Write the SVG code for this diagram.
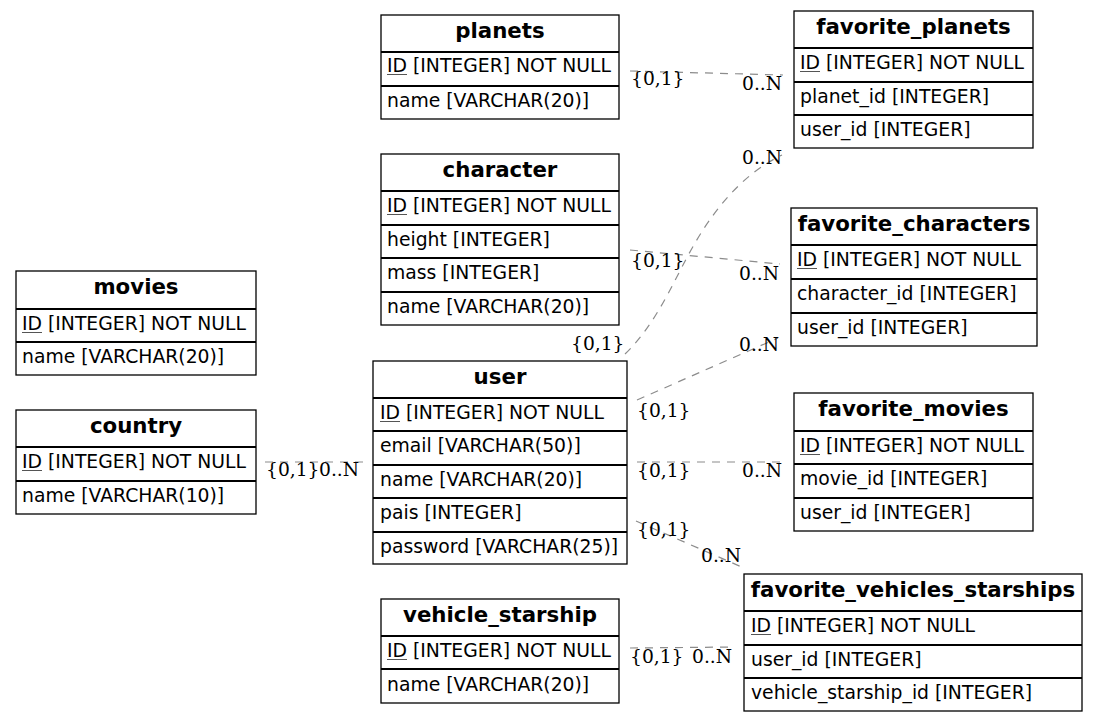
<svg xmlns="http://www.w3.org/2000/svg" width="1099" height="721" viewBox="0 0 1099 721">
  <style>
    .box { fill: #ffffff; stroke: #000000; stroke-width: 1.3; }
    .sep { stroke: #000000; stroke-width: 1.8; }
    .hdr { font-family: "DejaVu Sans", sans-serif; font-weight: bold; font-size: 21.3px; fill: #000; text-anchor: middle; }
    .col { font-family: "DejaVu Sans", sans-serif; font-size: 18.8px; fill: #000; }
    .ul { stroke: #555; stroke-width: 1; }
    .edge { fill: none; stroke: #8c8c8c; stroke-width: 1.2; stroke-dasharray: 8 7; }
    .lbl { font-family: "DejaVu Serif", serif; font-size: 18.7px; fill: #000; }
  </style>

  <!-- relationship lines and cardinality labels -->
  <g id="connectors">
    <path class="edge" d="M630,71 L783,75"/>
    <path class="edge" d="M630,250 L780,264"/>
    <path class="edge" d="M625,354 C650,330 665,300 683,265 C700,232 730,180 782,155"/>
    <path class="edge" d="M637,400 L778,338"/>
    <path class="edge" d="M637,462 L783,462"/>
    <path class="edge" d="M636,521 L744,568"/>
    <path class="edge" d="M265,462 L363,462"/>
    <path class="edge" d="M630,648 L735,647"/>

    <text class="lbl" x="631" y="85">{0,1}</text>
    <text class="lbl" x="742" y="90">0..N</text>
    <text class="lbl" x="631" y="267">{0,1}</text>
    <text class="lbl" x="739" y="280">0..N</text>
    <text class="lbl" x="571" y="350">{0,1}</text>
    <text class="lbl" x="742" y="164">0..N</text>
    <text class="lbl" x="637" y="417">{0,1}</text>
    <text class="lbl" x="739" y="351">0..N</text>
    <text class="lbl" x="637" y="477">{0,1}</text>
    <text class="lbl" x="742" y="477">0..N</text>
    <text class="lbl" x="637" y="536">{0,1}</text>
    <text class="lbl" x="701" y="562">0..N</text>
    <text class="lbl" x="266" y="476">{0,1}</text>
    <text class="lbl" x="319" y="476">0..N</text>
    <text class="lbl" x="630" y="663">{0,1}</text>
    <text class="lbl" x="692" y="663">0..N</text>
  </g>

  <g id="planets">
    <rect class="box" x="381" y="15" width="238" height="104"/>
    <line class="sep" x1="381" y1="52" x2="619" y2="52"/>
    <line class="sep" x1="381" y1="86" x2="619" y2="86"/>
    <text class="hdr" x="500" y="38">planets</text>
    <text class="col" x="387" y="72">ID [INTEGER] NOT NULL</text>
    <line class="ul" x1="387" y1="74.5" x2="407" y2="74.5"/>
    <text class="col" x="387" y="107">name [VARCHAR(20)]</text>
  </g>

  <g id="character">
    <rect class="box" x="381" y="154" width="238" height="171"/>
    <line class="sep" x1="381" y1="191" x2="619" y2="191"/>
    <line class="sep" x1="381" y1="225" x2="619" y2="225"/>
    <line class="sep" x1="381" y1="258" x2="619" y2="258"/>
    <line class="sep" x1="381" y1="292" x2="619" y2="292"/>
    <text class="hdr" x="500" y="177">character</text>
    <text class="col" x="387" y="212">ID [INTEGER] NOT NULL</text>
    <line class="ul" x1="387" y1="214.5" x2="407" y2="214.5"/>
    <text class="col" x="387" y="246">height [INTEGER]</text>
    <text class="col" x="387" y="279">mass [INTEGER]</text>
    <text class="col" x="387" y="313">name [VARCHAR(20)]</text>
  </g>

  <g id="favorite_planets">
    <rect class="box" x="794" y="11" width="239" height="137"/>
    <line class="sep" x1="794" y1="48" x2="1033" y2="48"/>
    <line class="sep" x1="794" y1="82" x2="1033" y2="82"/>
    <line class="sep" x1="794" y1="115" x2="1033" y2="115"/>
    <text class="hdr" x="913.5" y="34">favorite_planets</text>
    <text class="col" x="800" y="69">ID [INTEGER] NOT NULL</text>
    <line class="ul" x1="800" y1="71.5" x2="820" y2="71.5"/>
    <text class="col" x="800" y="103">planet_id [INTEGER]</text>
    <text class="col" x="800" y="136">user_id [INTEGER]</text>
  </g>

  <g id="favorite_characters">
    <rect class="box" x="791" y="208" width="246" height="138"/>
    <line class="sep" x1="791" y1="245" x2="1037" y2="245"/>
    <line class="sep" x1="791" y1="279" x2="1037" y2="279"/>
    <line class="sep" x1="791" y1="313" x2="1037" y2="313"/>
    <text class="hdr" x="914" y="231">favorite_characters</text>
    <text class="col" x="797" y="266">ID [INTEGER] NOT NULL</text>
    <line class="ul" x1="797" y1="268.5" x2="817" y2="268.5"/>
    <text class="col" x="797" y="300">character_id [INTEGER]</text>
    <text class="col" x="797" y="334">user_id [INTEGER]</text>
  </g>

  <g id="movies">
    <rect class="box" x="16" y="271" width="240" height="104"/>
    <line class="sep" x1="16" y1="309" x2="256" y2="309"/>
    <line class="sep" x1="16" y1="342" x2="256" y2="342"/>
    <text class="hdr" x="136" y="294">movies</text>
    <text class="col" x="22" y="330">ID [INTEGER] NOT NULL</text>
    <line class="ul" x1="22" y1="332.5" x2="42" y2="332.5"/>
    <text class="col" x="22" y="363">name [VARCHAR(20)]</text>
  </g>

  <g id="country">
    <rect class="box" x="16" y="410" width="240" height="104"/>
    <line class="sep" x1="16" y1="447" x2="256" y2="447"/>
    <line class="sep" x1="16" y1="481" x2="256" y2="481"/>
    <text class="hdr" x="136" y="433">country</text>
    <text class="col" x="22" y="468">ID [INTEGER] NOT NULL</text>
    <line class="ul" x1="22" y1="470.5" x2="42" y2="470.5"/>
    <text class="col" x="22" y="502">name [VARCHAR(10)]</text>
  </g>

  <g id="user">
    <rect class="box" x="373" y="361" width="254" height="203"/>
    <line class="sep" x1="373" y1="398" x2="627" y2="398"/>
    <line class="sep" x1="373" y1="431" x2="627" y2="431"/>
    <line class="sep" x1="373" y1="465" x2="627" y2="465"/>
    <line class="sep" x1="373" y1="498" x2="627" y2="498"/>
    <line class="sep" x1="373" y1="532" x2="627" y2="532"/>
    <text class="hdr" x="500" y="384">user</text>
    <text class="col" x="380" y="419">ID [INTEGER] NOT NULL</text>
    <line class="ul" x1="380" y1="421.5" x2="400" y2="421.5"/>
    <text class="col" x="380" y="452">email [VARCHAR(50)]</text>
    <text class="col" x="380" y="486">name [VARCHAR(20)]</text>
    <text class="col" x="380" y="519">pais [INTEGER]</text>
    <text class="col" x="380" y="553">password [VARCHAR(25)]</text>
  </g>

  <g id="favorite_movies">
    <rect class="box" x="794" y="393" width="239" height="138"/>
    <line class="sep" x1="794" y1="431" x2="1033" y2="431"/>
    <line class="sep" x1="794" y1="464" x2="1033" y2="464"/>
    <line class="sep" x1="794" y1="498" x2="1033" y2="498"/>
    <text class="hdr" x="913.5" y="416">favorite_movies</text>
    <text class="col" x="800" y="452">ID [INTEGER] NOT NULL</text>
    <line class="ul" x1="800" y1="454.5" x2="820" y2="454.5"/>
    <text class="col" x="800" y="485">movie_id [INTEGER]</text>
    <text class="col" x="800" y="519">user_id [INTEGER]</text>
  </g>

  <g id="vehicle_starship">
    <rect class="box" x="381" y="599" width="238" height="104"/>
    <line class="sep" x1="381" y1="636" x2="619" y2="636"/>
    <line class="sep" x1="381" y1="669" x2="619" y2="669"/>
    <text class="hdr" x="500" y="622">vehicle_starship</text>
    <text class="col" x="387" y="657">ID [INTEGER] NOT NULL</text>
    <line class="ul" x1="387" y1="659.5" x2="407" y2="659.5"/>
    <text class="col" x="387" y="691">name [VARCHAR(20)]</text>
  </g>

  <g id="favorite_vehicles_starships">
    <rect class="box" x="744" y="574" width="338" height="137"/>
    <line class="sep" x1="744" y1="611" x2="1082" y2="611"/>
    <line class="sep" x1="744" y1="645" x2="1082" y2="645"/>
    <line class="sep" x1="744" y1="678" x2="1082" y2="678"/>
    <text class="hdr" x="913" y="597">favorite_vehicles_starships</text>
    <text class="col" x="751" y="632">ID [INTEGER] NOT NULL</text>
    <line class="ul" x1="751" y1="634.5" x2="771" y2="634.5"/>
    <text class="col" x="751" y="666">user_id [INTEGER]</text>
    <text class="col" x="751" y="699">vehicle_starship_id [INTEGER]</text>
  </g>
</svg>
